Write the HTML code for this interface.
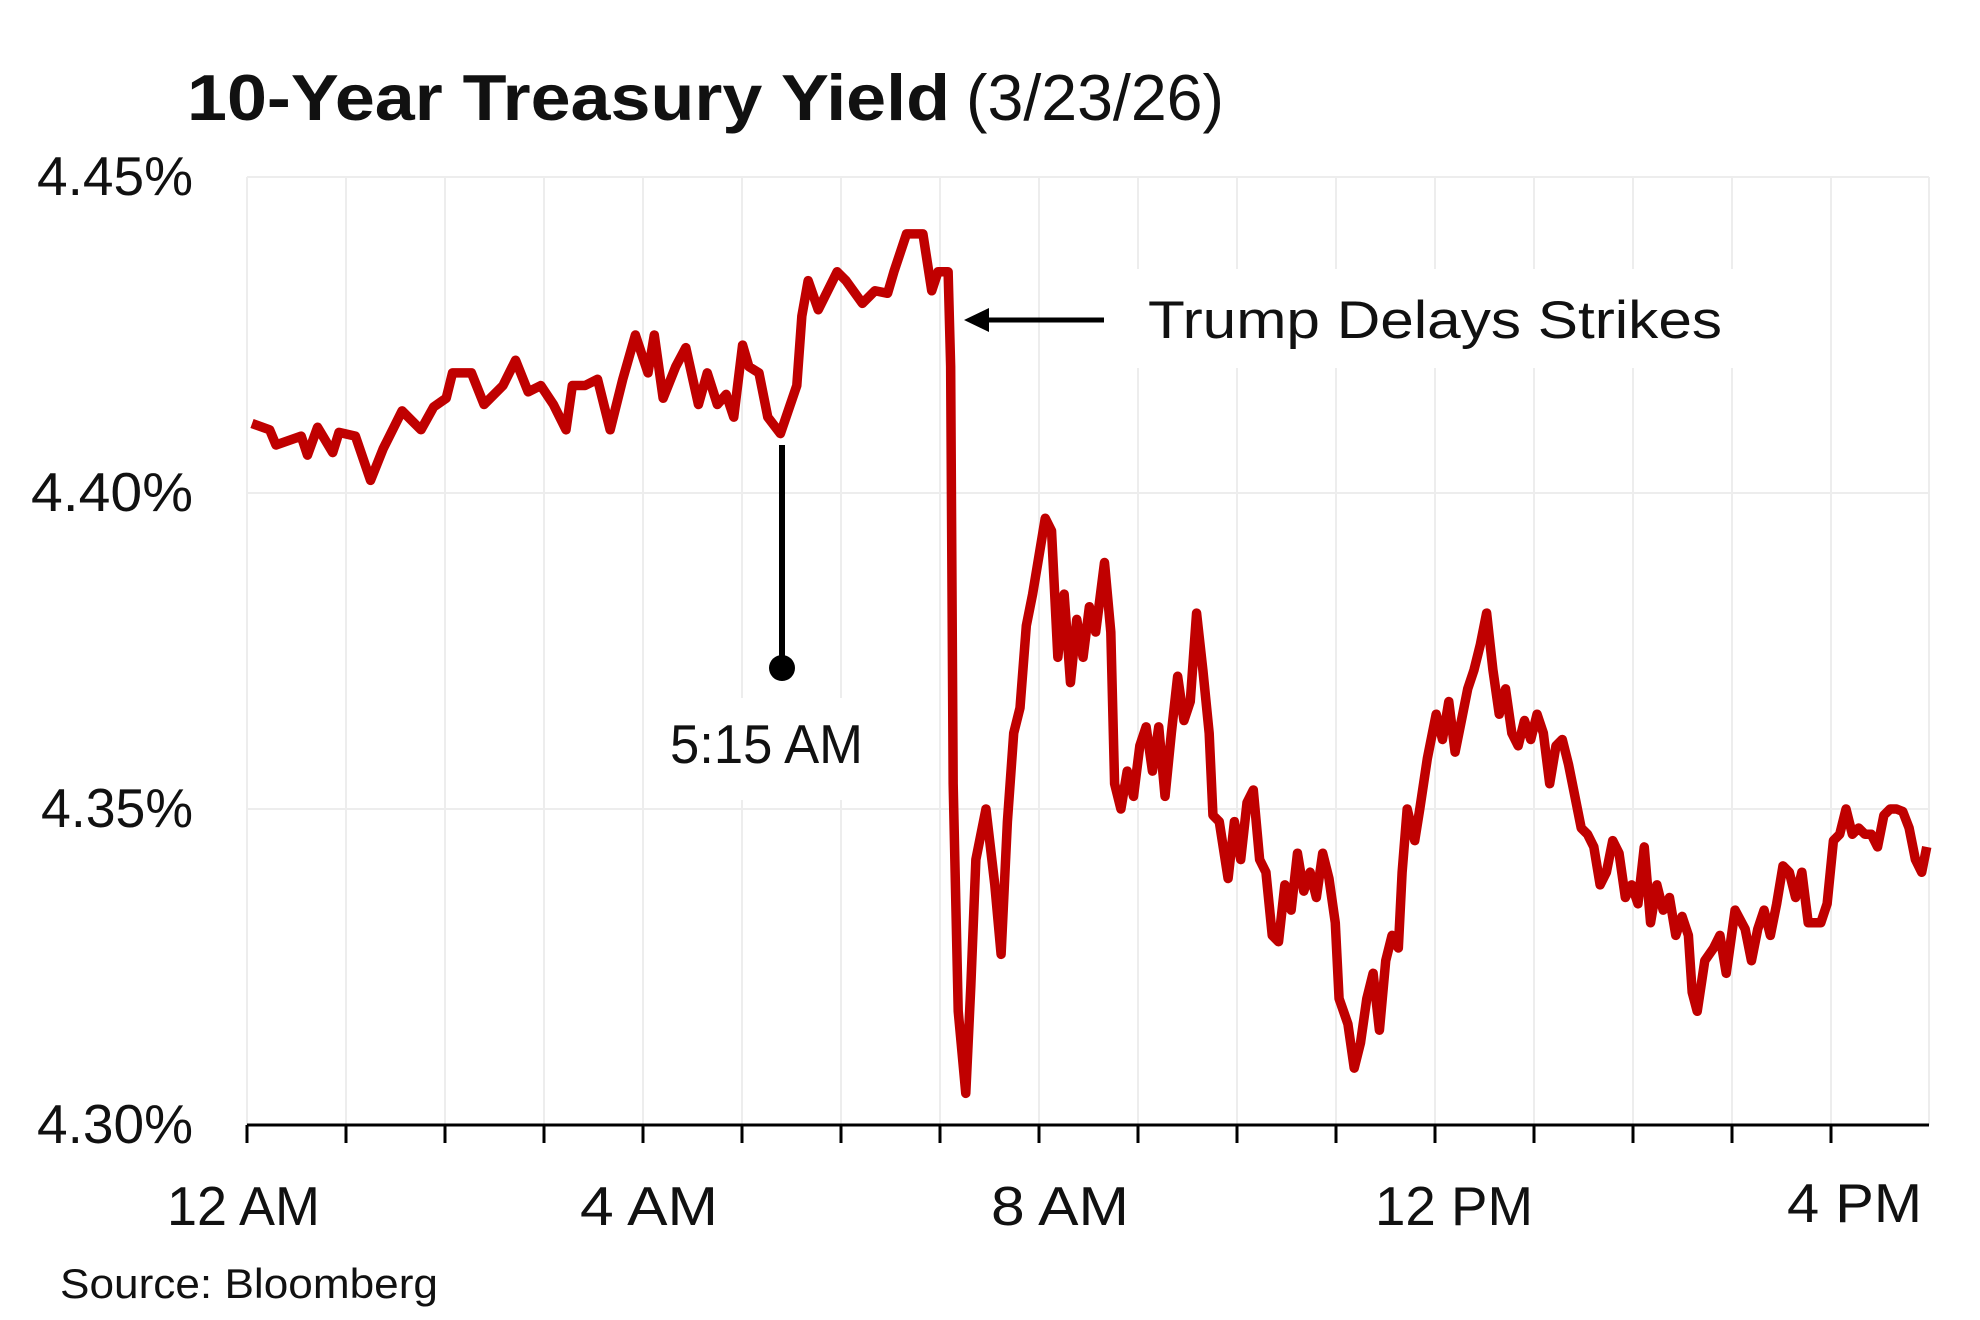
<!DOCTYPE html>
<html><head><meta charset="utf-8"><style>html,body{margin:0;padding:0;background:#fff}svg{display:block}</style></head>
<body>
<svg width="1980" height="1320" viewBox="0 0 1980 1320" xmlns="http://www.w3.org/2000/svg">
<rect width="1980" height="1320" fill="#fff"/>
<g stroke="#ededed" stroke-width="2">
<line x1="247" y1="177" x2="1929" y2="177"/><line x1="247" y1="493" x2="1929" y2="493"/><line x1="247" y1="809" x2="1929" y2="809"/>
<line x1="247" y1="177" x2="247" y2="1125"/><line x1="346" y1="177" x2="346" y2="1125"/><line x1="445" y1="177" x2="445" y2="1125"/><line x1="544" y1="177" x2="544" y2="1125"/><line x1="643" y1="177" x2="643" y2="1125"/><line x1="742" y1="177" x2="742" y2="1125"/><line x1="841" y1="177" x2="841" y2="1125"/><line x1="940" y1="177" x2="940" y2="1125"/><line x1="1039" y1="177" x2="1039" y2="1125"/><line x1="1138" y1="177" x2="1138" y2="1125"/><line x1="1237" y1="177" x2="1237" y2="1125"/><line x1="1336" y1="177" x2="1336" y2="1125"/><line x1="1435" y1="177" x2="1435" y2="1125"/><line x1="1534" y1="177" x2="1534" y2="1125"/><line x1="1633" y1="177" x2="1633" y2="1125"/><line x1="1732" y1="177" x2="1732" y2="1125"/><line x1="1831" y1="177" x2="1831" y2="1125"/><line x1="1929" y1="177" x2="1929" y2="1125"/>
</g>
<rect x="1110" y="269" width="663" height="99" fill="#fff"/>
<rect x="648" y="698" width="248" height="102" fill="#fff"/>
<g transform="translate(252,177) scale(1.2611,1.264) translate(-196,-140)">
<polyline fill="none" stroke="#c00000" stroke-width="9.5" vector-effect="non-scaling-stroke" stroke-linejoin="round" points="196,335 210,340 215,352 235,345 240,360 248,338 260,358 265,342 278,345 290,380 300,355 315,325 330,340 340,322 350,315 355,295 370,295 380,320 395,305 405,285 415,310 425,305 435,320 445,340 450,305 460,305 470,300 480,340 490,300 500,265 510,295 515,265 522,315 532,290 540,275 550,320 557,295 565,320 572,312 578,330 585,273 590,290 598,295 605,330 615,343 628,305 632,250 637,222 645,245 650,235 660,215 667,222 680,240 690,230 700,232 705,215 715,185 728,185 735,230 740,215 748,215 750,290 752,620 756,800 762,865 766,780 770,680 778,640 785,700 790,755 795,650 800,580 805,560 810,495 815,470 820,440 825,410 830,420 835,520 840,470 845,540 850,490 855,520 860,480 865,500 872,445 877,500 880,620 885,640 890,610 895,630 900,590 905,575 910,610 915,575 920,630 925,580 930,535 935,570 940,555 945,485 950,530 955,580 958,645 963,650 970,695 975,650 980,680 985,635 990,625 995,680 1000,690 1005,740 1010,745 1015,700 1020,720 1025,675 1030,705 1035,690 1040,710 1045,675 1050,695 1055,730 1058,790 1065,810 1070,845 1075,825 1080,790 1085,770 1090,815 1095,760 1100,740 1105,750 1108,690 1112,640 1118,665 1122,640 1128,600 1135,565 1140,585 1145,555 1150,595 1155,570 1160,545 1165,530 1170,510 1175,485 1180,530 1185,565 1190,545 1195,580 1200,590 1205,570 1210,585 1215,565 1220,580 1225,620 1230,590 1235,585 1240,605 1245,630 1250,655 1255,660 1260,670 1265,700 1270,690 1275,665 1280,675 1285,710 1290,700 1295,715 1300,670 1305,730 1310,700 1315,720 1320,710 1325,740 1330,725 1335,740 1338,785 1342,800 1348,760 1355,750 1360,740 1365,770 1372,720 1380,735 1385,760 1390,735 1395,720 1400,740 1405,715 1410,685 1415,690 1420,710 1425,690 1430,730 1440,730 1445,715 1450,665 1455,660 1460,640 1465,660 1470,655 1475,660 1480,660 1485,670 1490,645 1495,640 1500,640 1505,642 1510,655 1515,680 1520,690 1524,670"/>
</g>
<line x1="247" y1="1125" x2="1929" y2="1125" stroke="#000" stroke-width="3"/>
<g stroke="#000" stroke-width="3">
<line x1="247" y1="1125" x2="247" y2="1143"/><line x1="346" y1="1125" x2="346" y2="1143"/><line x1="445" y1="1125" x2="445" y2="1143"/><line x1="544" y1="1125" x2="544" y2="1143"/><line x1="643" y1="1125" x2="643" y2="1143"/><line x1="742" y1="1125" x2="742" y2="1143"/><line x1="841" y1="1125" x2="841" y2="1143"/><line x1="940" y1="1125" x2="940" y2="1143"/><line x1="1039" y1="1125" x2="1039" y2="1143"/><line x1="1138" y1="1125" x2="1138" y2="1143"/><line x1="1237" y1="1125" x2="1237" y2="1143"/><line x1="1336" y1="1125" x2="1336" y2="1143"/><line x1="1435" y1="1125" x2="1435" y2="1143"/><line x1="1534" y1="1125" x2="1534" y2="1143"/><line x1="1633" y1="1125" x2="1633" y2="1143"/><line x1="1732" y1="1125" x2="1732" y2="1143"/><line x1="1831" y1="1125" x2="1831" y2="1143"/>
</g>
<line x1="1104" y1="320" x2="980" y2="320" stroke="#000" stroke-width="5"/>
<polygon points="964,320 989,308 989,332" fill="#000"/>
<line x1="782" y1="445" x2="782" y2="668" stroke="#000" stroke-width="6"/>
<circle cx="782" cy="668" r="13" fill="#000"/>
<g font-family="Liberation Sans, sans-serif" fill="#111">
<text x="187" y="120" font-size="65" font-weight="bold" textLength="763" lengthAdjust="spacingAndGlyphs">10-Year Treasury Yield</text>
<text x="966" y="120" font-size="65" textLength="258" lengthAdjust="spacingAndGlyphs">(3/23/26)</text>
<g font-size="55"><text x="37" y="195" textLength="156" lengthAdjust="spacingAndGlyphs">4.45%</text><text x="31" y="511" textLength="162" lengthAdjust="spacingAndGlyphs">4.40%</text><text x="41" y="827" textLength="152" lengthAdjust="spacingAndGlyphs">4.35%</text><text x="37" y="1143" textLength="156" lengthAdjust="spacingAndGlyphs">4.30%</text></g>
<g font-size="55"><text x="167" y="1225" textLength="153" lengthAdjust="spacingAndGlyphs">12 AM</text><text x="580" y="1225" textLength="138" lengthAdjust="spacingAndGlyphs">4 AM</text><text x="991" y="1225" textLength="138" lengthAdjust="spacingAndGlyphs">8 AM</text><text x="1375" y="1225" textLength="158" lengthAdjust="spacingAndGlyphs">12 PM</text><text x="1787" y="1222" textLength="135" lengthAdjust="spacingAndGlyphs">4 PM</text></g>
<text x="1148" y="338" font-size="53" textLength="574" lengthAdjust="spacingAndGlyphs">Trump Delays Strikes</text>
<text x="670" y="763" font-size="55" textLength="193" lengthAdjust="spacingAndGlyphs">5:15 AM</text>
<text x="60" y="1298" font-size="42" textLength="378" lengthAdjust="spacingAndGlyphs">Source: Bloomberg</text>
</g>
</svg>
</body></html>
